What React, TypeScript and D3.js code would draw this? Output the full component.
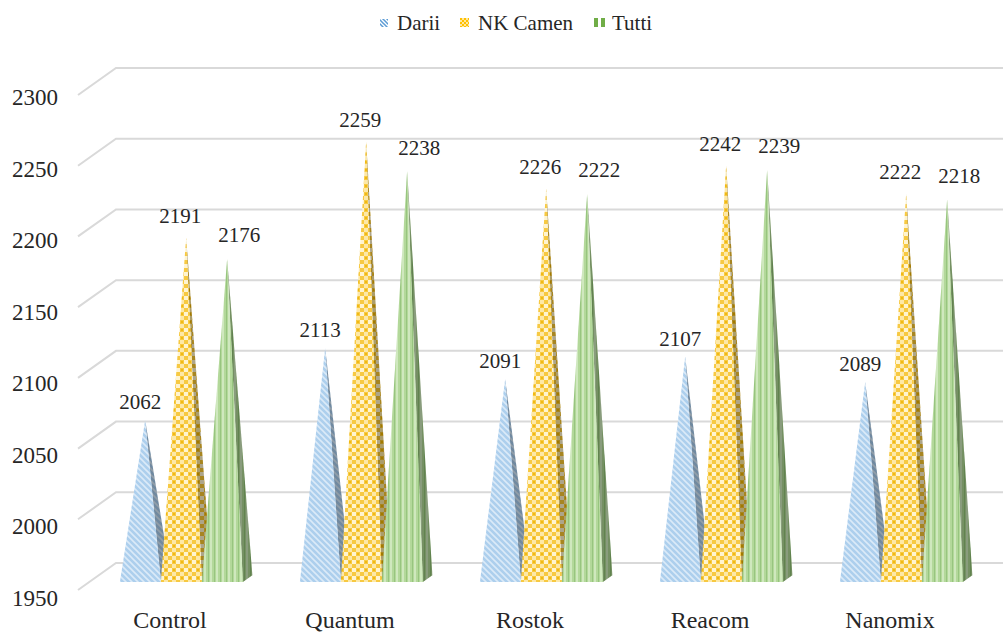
import React from "react";
import * as d3 from "d3";

const categories = ["Control", "Quantum", "Rostok", "Reacom", "Nanomix"];
const seriesNames = ["Darii", "NK Camen", "Tutti"];
const dariiValues = [2062, 2113, 2091, 2107, 2089];
const nkCamenValues = [2191, 2259, 2226, 2242, 2222];
const tuttiValues = [2176, 2238, 2222, 2239, 2218];
const yTicks = [1950, 2000, 2050, 2100, 2150, 2200, 2250, 2300];

const seriesValues = [dariiValues, nkCamenValues, tuttiValues];

const W = 1003;
const H = 632;
const DX = 38;
const DY = 27;
const Z0 = 0.3;
const Z1 = 0.55;
const ZC = (Z0 + Z1) / 2;
const X_LEFT = 78;
const FONT = "Liberation Serif, Times New Roman, DejaVu Serif, serif";
const TEXT = "#262626";

const yFront = d3.scaleLinear().domain([1950, 2300]).range([590, 95]);
const yLabel = d3.scaleLinear().domain([1950, 2300]).range([598, 97]);
const xCat = d3
  .scaleBand<string>()
  .domain(categories)
  .range([80, 980])
  .paddingInner(0.317)
  .paddingOuter(0.1585);
const xSer = d3
  .scaleBand<string>()
  .domain(seriesNames)
  .range([0, xCat.bandwidth()]);

const proj = (x: number, v: number, z: number): [number, number] => [
  x + z * DX,
  yFront(v) - z * DY,
];

const fills = ["url(#pDarii)", "url(#pCamen)", "url(#pTutti)"];
const labelOffsets: [number, number][] = [
  [-5, -18],
  [-6, -22],
  [12, -24],
];

const pts = (p: [number, number][]) => p.map((q) => q.join(",")).join(" ");

export default function App() {
  const base = yTicks[0];
  const line = d3.line();
  return (
    <svg
      width={W}
      height={H}
      style={{ position: "absolute", left: 0, top: 0, background: "#fff", fontFamily: FONT }}
    >
      <defs>
        <pattern id="pDarii" width="6" height="6" patternUnits="userSpaceOnUse">
          <rect width="6" height="6" fill="#a6cbec" />
          <path d="M-1,1 L1,-1 M0,6 L6,0 M5,7 L7,5" stroke="#d8e9f8" strokeWidth="1.6" transform="scale(-1,1) translate(-6,0)" />
        </pattern>
        <pattern id="pCamen" width="8" height="8" patternUnits="userSpaceOnUse">
          <rect width="8" height="8" fill="#f7c532" />
          <rect x="0" y="0" width="4" height="4" fill="#fff4cc" />
          <rect x="4" y="4" width="4" height="4" fill="#fde7a0" />
          <rect x="5" y="1" width="2" height="2" fill="#efb400" />
        </pattern>
        <pattern id="pTutti" width="6" height="6" patternUnits="userSpaceOnUse">
          <rect width="6" height="6" fill="#add592" />
          <rect x="0" width="2" height="6" fill="#cbe6b9" />
          <rect x="4" width="1" height="6" fill="#8fc175" />
        </pattern>
        <pattern id="lDarii" width="4" height="4" patternUnits="userSpaceOnUse">
          <rect width="4" height="4" fill="#fff" />
          <path d="M-1,-1 L5,5 M-1,3 L1,5 M3,-1 L5,1" stroke="#5b9bd5" strokeWidth="1.5" />
        </pattern>
        <pattern id="lCamen" width="4" height="4" patternUnits="userSpaceOnUse">
          <rect width="4" height="4" fill="#ffc000" />
          <rect width="2" height="2" fill="#ffe8a0" />
          <rect x="2" y="2" width="2" height="2" fill="#ffe8a0" />
        </pattern>
      </defs>

      {/* grid */}
      <g stroke="#d9d9d9" strokeWidth={2} fill="none">
        {yTicks.map((t) => {
          const a = proj(X_LEFT, t, 0);
          const b = proj(X_LEFT, t, 1);
          return <path key={t} d={line([a, b, [W, b[1]]]) || ""} />;
        })}
      </g>

      {/* y tick labels */}
      <g fontSize={23} fill={TEXT} textAnchor="end">
        {yTicks.map((t) => (
          <text key={t} x={58} y={yLabel(t)} dy="0.35em">
            {t}
          </text>
        ))}
      </g>

      {/* pyramids */}
      {categories.map((c, ci) => (
        <g key={c}>
          {seriesNames.map((s, si) => {
            const v = seriesValues[si][ci];
            const x0 = (xCat(c) as number) + (xSer(s) as number);
            const x1 = x0 + xSer.bandwidth();
            const apex = proj((x0 + x1) / 2, v, ZC);
            const fl = proj(x0, base, Z0);
            const fr = proj(x1, base, Z0);
            const br = proj(x1, base, Z1);
            const front = pts([fl, fr, apex]);
            const side = pts([fr, br, apex]);
            return (
              <g key={s}>
                <polygon points={side} fill={fills[si]} />
                <polygon points={side} fill="#000" fillOpacity={0.32} />
                <polygon points={front} fill={fills[si]} />
                <polygon points={front} fill="#fff" fillOpacity={0.08} />
              </g>
            );
          })}
        </g>
      ))}

      {/* value labels */}
      <g fontSize={21} fill={TEXT} textAnchor="middle">
        {categories.map((c, ci) =>
          seriesNames.map((s, si) => {
            const v = seriesValues[si][ci];
            const x0 = (xCat(c) as number) + (xSer(s) as number);
            const apex = proj(x0 + xSer.bandwidth() / 2, v, ZC);
            return (
              <text
                key={c + s}
                x={apex[0] + labelOffsets[si][0]}
                y={apex[1] + labelOffsets[si][1]}
                dy="0.35em"
              >
                {v}
              </text>
            );
          })
        )}
      </g>

      {/* category labels */}
      <g fontSize={24} fill={TEXT} textAnchor="middle">
        {categories.map((c) => (
          <text key={c} x={(xCat(c) as number) + xCat.bandwidth() / 2} y={620} dy="0.35em">
            {c}
          </text>
        ))}
      </g>

      {/* legend */}
      <g fontSize={21} fill={TEXT}>
        <rect x={380} y={19} width={8} height={8} fill="url(#lDarii)" />
        <text x={397} y={23} dy="0.35em">Darii</text>
        <rect x={460} y={18} width={9} height={9} fill="url(#lCamen)" />
        <text x={478} y={23} dy="0.35em">NK Camen</text>
        <rect x={594} y={18} width={4} height={9} fill="#70ad47" />
        <rect x={601} y={18} width={4} height={9} fill="#70ad47" />
        <text x={612} y={23} dy="0.35em">Tutti</text>
      </g>
    </svg>
  );
}
